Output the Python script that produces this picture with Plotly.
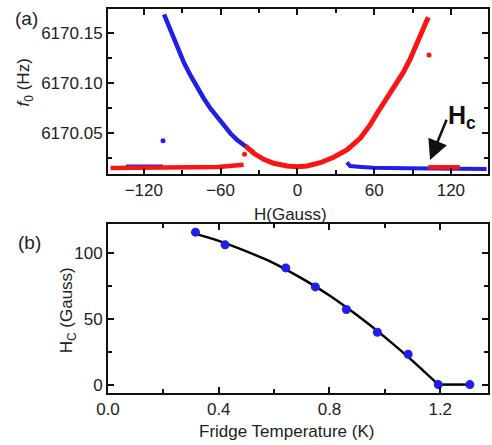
import plotly.graph_objects as go

# ---------------- Panel (a) data ----------------
BASE = 6170.0
blue_curve_H = [-104.2, -99.0, -93.8, -88.6, -83.4, -78.2, -73.0, -67.8, -62.6, -57.4, -52.2, -47.0, -40.5, -34.0]
blue_curve_f = [0.1684, 0.1512, 0.1348, 0.1198, 0.1070, 0.0950, 0.0840, 0.0740, 0.0652, 0.0570, 0.0492, 0.0426, 0.0363, 0.0302]

blue_flat_left_H = [-134, -105]
blue_flat_left_f = [0.0168, 0.0168]

blue_dot_H = [-105]
blue_dot_f = [0.0420]

blue_flat_right_H = [38.7, 40.0, 41.3, 50.0, 59.5, 85.5, 120.0, 147.9]
blue_flat_right_f = [0.0204, 0.0180, 0.0167, 0.0158, 0.0150, 0.0144, 0.0140, 0.0137]

red_curve_H = [-40.5, -34.1, -26.3, -18.5, -8.0, 0.0, 7.6, 17.9, 28.3, 38.7, 49.1, 57.0, 62.1, 67.3, 72.5, 77.7, 82.9, 88.1, 93.0, 98.0, 102.3]
red_curve_f = [0.0367, 0.0294, 0.0234, 0.0194, 0.0167, 0.0160, 0.0167, 0.0200, 0.0254, 0.0327, 0.0444, 0.0580, 0.0690, 0.0795, 0.0895, 0.0995, 0.1105, 0.1235, 0.1380, 0.1524, 0.1654]

red_flat_left_H = [-146, -100, -62, -42]
red_flat_left_f = [0.0147, 0.0152, 0.0158, 0.0180]

red_flat_right_H = [102.3, 127.0]
red_flat_right_f = [0.0154, 0.0154]

red_dots_H = [-41.3, 102.9]
red_dots_f = [0.0284, 0.1277]

a_xticks = [-120, -60, 0, 60, 120]
a_yticks = [6170.05, 6170.10, 6170.15]
a_yticklabels = ["6170.05", "6170.10", "6170.15"]

# ---------------- Panel (b) data ----------------
T_data = [0.316, 0.423, 0.642, 0.749, 0.861, 0.973, 1.084, 1.193, 1.307]
Hc_data = [115.6, 106.0, 88.5, 74.1, 56.9, 39.7, 23.0, 0.0, 0.0]
T_fit = [0.316, 0.4, 0.5, 0.6, 0.7, 0.8, 0.9, 1.0, 1.1, 1.193]
Hc_fit = [114.5, 109.0, 101.0, 92.0, 80.5, 67.5, 52.5, 36.0, 18.0, 0.0]
T_flat = [1.193, 1.307]
Hc_flat = [0.0, 0.0]
b_xticks = [0.0, 0.4, 0.8, 1.2]
b_xticklabels = ["0.0", "0.4", "0.8", "1.2"]
b_yticks = [0, 50, 100]

BLUE = "#1f1fe8"
RED = "#fa1414"

fig = go.Figure()

def f_abs(vals):
    return [BASE + v for v in vals]

# blue first (underneath)
fig.add_trace(go.Scatter(x=blue_curve_H, y=f_abs(blue_curve_f), mode="lines",
                         line=dict(color=BLUE, width=4.5), xaxis="x", yaxis="y"))
fig.add_trace(go.Scatter(x=blue_flat_left_H, y=f_abs(blue_flat_left_f), mode="lines",
                         line=dict(color=BLUE, width=3), xaxis="x", yaxis="y"))
fig.add_trace(go.Scatter(x=blue_flat_right_H, y=f_abs(blue_flat_right_f), mode="lines",
                         line=dict(color=BLUE, width=4), xaxis="x", yaxis="y"))
fig.add_trace(go.Scatter(x=blue_dot_H, y=f_abs(blue_dot_f), mode="markers",
                         marker=dict(color=BLUE, size=5), xaxis="x", yaxis="y"))
# red on top
fig.add_trace(go.Scatter(x=red_curve_H, y=f_abs(red_curve_f), mode="lines",
                         line=dict(color=RED, width=5), xaxis="x", yaxis="y"))
fig.add_trace(go.Scatter(x=red_flat_left_H, y=f_abs(red_flat_left_f), mode="lines",
                         line=dict(color=RED, width=4.5), xaxis="x", yaxis="y"))
fig.add_trace(go.Scatter(x=red_flat_right_H, y=f_abs(red_flat_right_f), mode="lines",
                         line=dict(color=RED, width=4.5), xaxis="x", yaxis="y"))
fig.add_trace(go.Scatter(x=red_dots_H, y=f_abs(red_dots_f), mode="markers",
                         marker=dict(color=RED, size=5), xaxis="x", yaxis="y"))

# panel b
fig.add_trace(go.Scatter(x=T_fit, y=Hc_fit, mode="lines",
                         line=dict(color="black", width=2.5, shape="spline", smoothing=0.5),
                         xaxis="x2", yaxis="y2"))
fig.add_trace(go.Scatter(x=T_flat, y=Hc_flat, mode="lines",
                         line=dict(color="black", width=2.5), xaxis="x2", yaxis="y2"))
fig.add_trace(go.Scatter(x=T_data, y=Hc_data, mode="markers",
                         marker=dict(color=BLUE, size=9), xaxis="x2", yaxis="y2"))

FONT = "Liberation Sans, Arial, sans-serif"
axis_common = dict(showline=True, linecolor="#111", linewidth=2, mirror="ticks",
                   ticks="inside", ticklen=6, tickwidth=1.5, tickcolor="#111",
                   showgrid=False, zeroline=False,
                   tickfont=dict(family=FONT, size=17, color="#222"))

fig.update_layout(
    width=492, height=445,
    margin=dict(l=108, r=2, t=9, b=52),
    plot_bgcolor="white", paper_bgcolor="white",
    showlegend=False,
    font=dict(family=FONT, color="#222"),
    xaxis=dict(domain=[0, 1], anchor="y", range=[-148, 149], tickvals=a_xticks,
               minor=dict(dtick=30, tick0=0, ticks="inside", ticklen=4, tickcolor="#111"),
               **axis_common),
    yaxis=dict(domain=[0.5703, 1], anchor="x", range=[6170.0087, 6170.1737],
               tickvals=a_yticks, ticktext=a_yticklabels,
               minor=dict(dtick=0.025, tick0=6170.0, ticks="inside", ticklen=4, tickcolor="#111"),
               **axis_common),
    xaxis2=dict(domain=[0, 1], anchor="y2", range=[0, 1.3725], tickvals=b_xticks, ticktext=b_xticklabels,
                minor=dict(dtick=0.2, tick0=0, ticks="inside", ticklen=4, tickcolor="#111"),
                **axis_common),
    yaxis2=dict(domain=[0, 0.4401], anchor="x2", range=[-6.4, 121.8], tickvals=b_yticks,
                minor=dict(dtick=25, tick0=0, ticks="inside", ticklen=4, tickcolor="#111"),
                **axis_common),
)

def label(text, x, y, size=17, angle=0):
    return dict(text=text, xref="paper", yref="paper", x=x, y=y, xanchor="center", yanchor="middle",
                textangle=angle, showarrow=False, font=dict(family=FONT, size=size, color="#222"))

ann = [
    label("(a)", -0.2134, 0.974, size=19),
    label("(b)", -0.2055, 0.392, size=19),
    label("<i>f</i><sub>0</sub> (Hz)", -0.2173, 0.81, angle=-90),
    label("H(Gauss)", 0.480, 0.465),
    label("H<sub>C</sub> (Gauss)", -0.1047, 0.216, angle=-90),
    label("Fridge Temperature (K)", 0.470, -0.1003),
]
# Hc arrow
ann.append(dict(text="", x=103.7, y=6170.0227, xref="x", yref="y",
                ax=117.1, ay=6170.0644, axref="x", ayref="y",
                showarrow=True, arrowhead=2, arrowsize=1.6, arrowwidth=2.5, arrowcolor="#111"))
ann.append(dict(text="<b>H<sub>c</sub></b>", x=116.5, y=6170.066, xref="x", yref="y",
                xanchor="left", yanchor="middle", showarrow=False,
                font=dict(family=FONT, size=25, color="#111")))
fig.update_layout(annotations=ann)

fig.write_html("out.html")
